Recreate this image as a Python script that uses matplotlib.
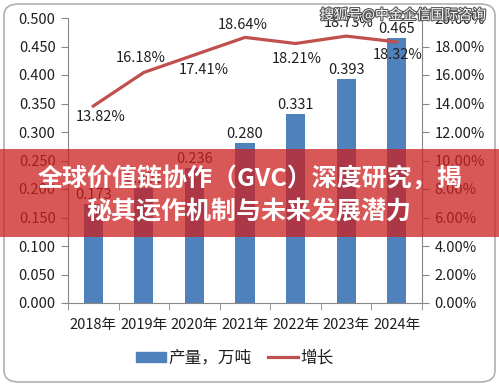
import numpy as np
import matplotlib
matplotlib.use('Agg')
import matplotlib.pyplot as plt
from matplotlib.patches import FancyBboxPatch, Rectangle
import matplotlib.patheffects as pe

plt.rcParams['font.family'] = ['Noto Sans CJK SC', 'DejaVu Sans']
plt.rcParams['font.weight'] = 'medium'

# ============== DATA ==============
years = ['2018年', '2019年', '2020年', '2021年', '2022年', '2023年', '2024年']
output = [0.173, 0.201, 0.236, 0.280, 0.331, 0.393, 0.465]   # 产量，万吨
growth = [13.82, 16.18, 17.41, 18.64, 18.21, 18.73, 18.32]   # 增长, %
left_ticks = [0.0, 0.05, 0.1, 0.15, 0.2, 0.25, 0.3, 0.35, 0.4, 0.45, 0.5]
right_ticks = [0, 2, 4, 6, 8, 10, 12, 14, 16, 18, 20]
banner_lines = ['全球价值链协作（GVC）深度研究，揭', '秘其运作机制与未来发展潜力']
watermark = '搜狐号@中金企信国际咨询'
# ==================================

BLUE = '#4F81BD'
RED = '#C0504D'
TXT = '#1f1f1f'
FS = 10.5

W, H = 499, 386
fig = plt.figure(figsize=(W / 100, H / 100), dpi=100)

# rounded outer border
fig.patches.append(FancyBboxPatch((4 / W, 4 / H), 491 / W, 378 / H,
                                  boxstyle='round,pad=0,rounding_size=0.03',
                                  transform=fig.transFigure, fill=False,
                                  edgecolor='#B0B0B0', linewidth=1.2))

ax = fig.add_axes([68 / W, 1 - 303 / H, (422 - 68) / W, (303 - 18) / H])
x = np.arange(len(years))
bars = ax.bar(x, output, width=0.38, color=BLUE, zorder=2)
ax.set_xlim(-0.5, len(years) - 0.5)
ax.set_ylim(0, 0.5)
ax.set_yticks(left_ticks)
ax.set_yticklabels([f'{v:.3f}' for v in left_ticks], fontsize=FS, color=TXT)
ax.set_xticks(x)
ax.set_xticklabels(years, fontsize=FS, color=TXT)
ax.set_xticks(np.arange(-0.5, len(years)), minor=True)
ax.tick_params(axis='x', which='major', length=0, pad=11)
ax.tick_params(axis='x', which='minor', length=5, color='#888888', direction='out')
ax.tick_params(axis='y', length=5, color='#888888', direction='out', pad=4)
for s in ['top', 'right']:
    ax.spines[s].set_visible(False)
for s in ['left', 'bottom']:
    ax.spines[s].set_color('#888888')

for xi, v in zip(x, output):
    ax.annotate(f'{v:.3f}', (xi, v), xytext=(0, 2), textcoords='offset pixels',
                ha='center', va='bottom', fontsize=FS, color=TXT)

ax2 = ax.twinx()
ax2.plot(x, growth, color=RED, linewidth=2.3, zorder=3)
ax2.set_ylim(0, 20)
ax2.set_yticks(right_ticks)
ax2.set_yticklabels([f'{v:.2f}%' for v in right_ticks], fontsize=FS, color=TXT)
ax2.tick_params(axis='y', length=5, color='#888888', direction='out', pad=4)
for s in ['top', 'left', 'bottom']:
    ax2.spines[s].set_visible(False)
ax2.spines['right'].set_color('#888888')

offsets = [(7, -11), (-3, 14), (9, -15), (-2, 12), (1, -15), (3, 13), (1, -13)]
for xi, g, (dx, dy) in zip(x, growth, offsets):
    ax2.annotate(f'{g:.2f}%', (xi, g), xytext=(dx, dy), textcoords='offset pixels',
                 ha='center', va='center', fontsize=FS, color=TXT)

# legend
h_bar = Rectangle((0, 0), 1, 1, color=BLUE)
h_line = plt.Line2D([], [], color=RED, linewidth=2.3)
fig.legend([h_bar, h_line], ['产量，万吨', '增长'], loc='center',
           bbox_to_anchor=(235 / W, 1 - 358 / H), ncol=2, frameon=False,
           fontsize=12, handlelength=1.8, handleheight=0.55, handletextpad=0.15,
           columnspacing=1.0, labelcolor=TXT)

# red banner overlay
fig.patches.append(Rectangle((0, 1 - 237 / H), 1, 88 / H, transform=fig.transFigure,
                             facecolor=(0.80, 0.12, 0.12), alpha=0.75, zorder=10))
fig.text(250 / W, 1 - 179 / H, banner_lines[0], ha='center', va='center',
         fontsize=18, fontweight='bold', color='white', zorder=11)
fig.text(249 / W, 1 - 212 / H, banner_lines[1], ha='center', va='center',
         fontsize=18, fontweight='bold', color='white', zorder=11)

# watermark
fig.text(403 / W, 1 - 15 / H, watermark, ha='center', va='center', fontsize=10,
         color='white', zorder=11,
         path_effects=[pe.withStroke(linewidth=1.6, foreground='#555555')])

fig.savefig('out.png', dpi=100)
